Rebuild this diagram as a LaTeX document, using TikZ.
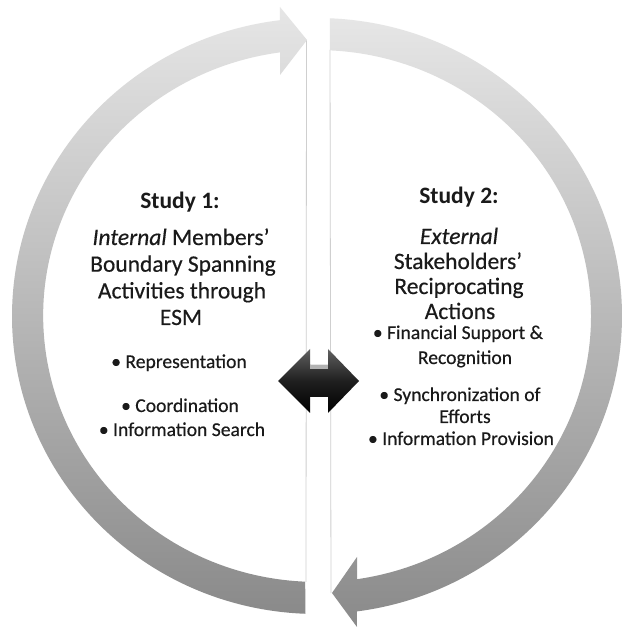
\documentclass[tikz,border=0pt]{standalone}
\usepackage{fontspec}
\setmainfont{Carlito}
\definecolor{arcTop}{HTML}{E6E6E6}
\definecolor{arcMid}{HTML}{BFBFBF}
\definecolor{arcBot}{HTML}{8A8A8A}
\definecolor{txt}{HTML}{1A1A1A}
\definecolor{sepline}{HTML}{CFCFCF}
\tikzset{
  arcband/.style={top color=arcTop, middle color=arcMid, bottom color=arcBot, draw=none},
  title/.style={anchor=base, text=txt, font=\fontsize{23.5}{27}\selectfont\bfseries, inner sep=0pt},
  body/.style={anchor=base, text=txt, font=\fontsize{23.5}{27}\selectfont\addfontfeatures{FakeBold=0.4}, inner sep=0pt},
  bulletL/.style={anchor=base, text=txt, font=\fontsize{19.6}{23}\selectfont\addfontfeatures{FakeBold=0.4}, inner sep=0pt},
  bulletR/.style={anchor=base, text=txt, font=\fontsize{19.6}{23}\selectfont\addfontfeatures{FakeBold=0.4}, inner sep=0pt},
  sep/.style={draw=sepline, line width=0.8pt}
}
\begin{document}
\begin{tikzpicture}[x=1pt,y=1pt]
\useasboundingbox (0,0) rectangle (623,627);
\fill[white] (0,0) rectangle (623,627);

% separator lines between arc ends
\coordinate (ltip) at (306.5,587);
\coordinate (lend) at (306,45);
\coordinate (rstart) at (330,577);
\coordinate (rtip) at (331,34);
\draw[sep] (ltip) -- (lend);
\draw[sep] (rstart) -- (rtip);

% left arc: bottom -> left -> top, arrow pointing right
\shade[arcband]
  (317,311) ++(267.8:305 and 298) coordinate (la0)
  arc[start angle=267.8, end angle=97, x radius=305, y radius=298]
  -- (280,620) -- (307,587) -- (280,552)
  -- (280,574.6)
  arc[start angle=97.8, end angle=267.5, x radius=274, y radius=266]
  -- cycle;

% right arc: top -> right -> bottom, arrow pointing left
\shade[arcband]
  (317,311) ++(87.6:305 and 298) coordinate (ra0)
  arc[start angle=87.6, end angle=-82.5, x radius=305, y radius=298]
  -- (357,0) -- (332,34) -- (357,70)
  -- (357,47.8)
  arc[start angle=-81.6, end angle=87.3, x radius=274, y radius=266]
  -- cycle;

% central double arrow
\shade[top color=black!62, bottom color=black, middle color=black!88]
  (278,246) -- (310,278) -- (310,262) -- (328,262) -- (328,278) -- (359,246)
  -- (328,214) -- (328,230) -- (310,230) -- (310,214) -- cycle;
\fill[black!30] (310,262) rectangle (328,258);

% left column
\node[title]  (s1)  at (180,418) {Study 1:};
\node[body]   (l1)  at (181,382) {\textit{Internal} Members’};
\node[body]   (l2)  at (183,355.3) {Boundary Spanning};
\node[body]   (l3)  at (182,328.6) {Activities through};
\node[body]   (l4)  at (181,302) {ESM};
\node[bulletL] (lb1) at (179,259) {• Representation};
\node[bulletL] (lb2) at (180,215) {• Coordination};
\node[bulletL] (lb3) at (182,191) {• Information Search};

% right column
\node[title]  (s2)  at (459,423) {Study 2:};
\node[body]   (r1)  at (459,383) {\textit{External}};
\node[body]   (r2)  at (458,358) {Stakeholders’};
\node[body]   (r3)  at (459,333) {Reciprocating};
\node[body]   (r4)  at (460,308) {Actions};
\node[bulletR] (rb1) at (458,288) {• Financial Support \&};
\node[bulletR] (rb2) at (465,263) {Recognition};
\node[bulletR] (rb3) at (460,226) {• Synchronization of};
\node[bulletR] (rb4) at (465,204) {Efforts};
\node[bulletR] (rb5) at (461,182) {• Information Provision};
\end{tikzpicture}
\end{document}
